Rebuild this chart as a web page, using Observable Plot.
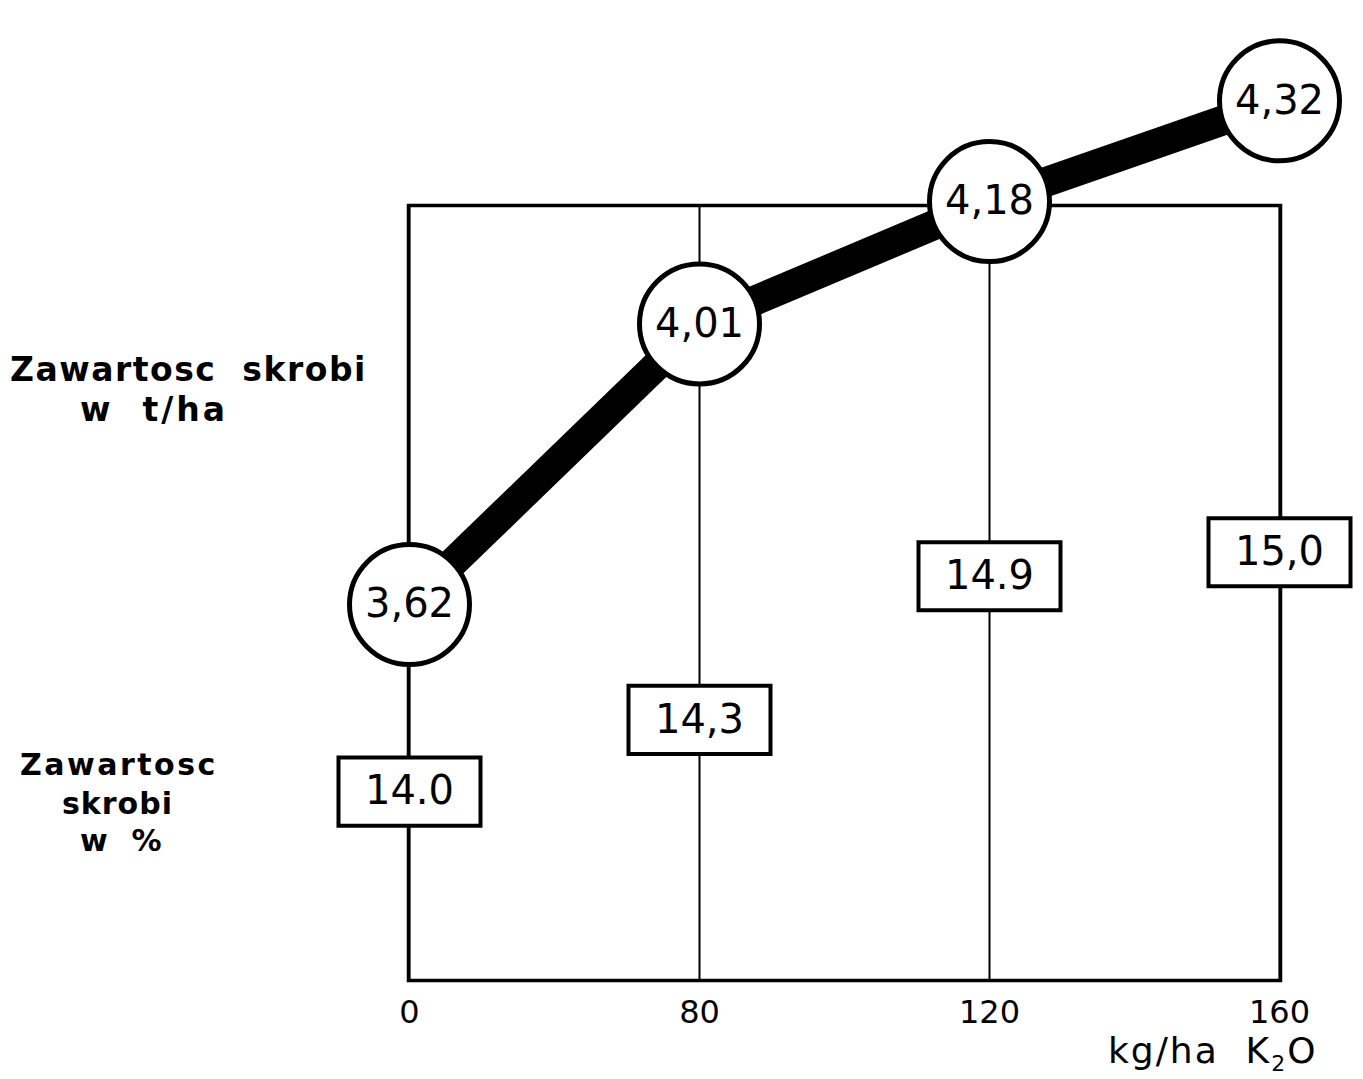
<!DOCTYPE html>
<html><head><meta charset="utf-8">
<script src="https://cdn.jsdelivr.net/npm/d3@7"></script>
<script src="https://cdn.jsdelivr.net/npm/@observablehq/plot@0.6"></script>
<style>
body{margin:0;background:#fff;}
#wrap{position:relative;width:1363px;height:1079px;overflow:hidden;}
#wrap svg{position:absolute;left:0;top:0;}
.lab{position:absolute;font-family:"DejaVu Sans",sans-serif;font-weight:bold;color:#000;white-space:pre;line-height:1;}
</style></head>
<body><div id="wrap"></div>
<script>
// Data
const doses = ["0", "80", "120", "160"];                 // kg/ha K2O
const yieldT = [3.62, 4.01, 4.18, 4.32];                  // starch t/ha
const yieldLabels = ["3,62", "4,01", "4,18", "4,32"];
const starchPct = [14.0, 14.3, 14.9, 15.0];               // starch %
const starchLabels = ["14.0", "14,3", "14.9", "15,0"];

// secondary (%) axis mapped into the t/ha scale
const yDomain = [3.0976, 4.1746];
const pctToT = d3.scaleLinear().domain([14, 15]).range([3.360, 3.6927]);

const data = doses.map((d, i) => ({
  dose: d, t: yieldT[i], tLab: yieldLabels[i],
  pct: pctToT(starchPct[i]), pLab: starchLabels[i]
}));

const boxSymbol = {
  draw(ctx, size) {
    const r = Math.sqrt(size / Math.PI);
    const w = r, h = r * 0.48;
    ctx.moveTo(-w, -h); ctx.lineTo(w, -h); ctx.lineTo(w, h); ctx.lineTo(-w, h); ctx.closePath();
  }
};

const chart = Plot.plot({
  width: 1363, height: 1079,
  marginLeft: 408, marginRight: 83, marginTop: 205, marginBottom: 99,
  style: {fontFamily: "DejaVu Sans, sans-serif", background: "white", color: "black", overflow: "visible"},
  x: {type: "point", domain: doses, padding: 0},
  y: {domain: yDomain, axis: null},
  marks: [
    Plot.ruleX(doses, {x: d => d, y1: yDomain[0], y2: yDomain[1], stroke: "black", strokeWidth: 2}),
    Plot.frame({stroke: "black", strokeWidth: 3.5}),
    Plot.line(data, {x: "dose", y: "t", stroke: "black", strokeWidth: 30, strokeLinecap: "butt"}),
    Plot.dot(data, {x: "dose", y: "pct", symbol: boxSymbol, r: 71, fill: "white", stroke: "black", strokeWidth: 4}),
    Plot.text(data, {x: "dose", y: "pct", text: "pLab", fontSize: 40, fill: "black"}),
    Plot.dot(data, {x: "dose", y: "t", r: 60, fill: "white", stroke: "black", strokeWidth: 5}),
    Plot.text(data, {x: "dose", y: "t", text: "tLab", fontSize: 40, fill: "black"}),
    Plot.axisX({tickSize: 0, tickPadding: 20, fontSize: 32, label: null})
  ]
});
const wrap = document.getElementById("wrap");
wrap.appendChild(chart);

function addLabel(text, left, top, size, spacing) {
  const d = document.createElement("div");
  d.className = "lab"; d.textContent = text;
  d.style.left = left + "px"; d.style.top = top + "px"; d.style.fontSize = size + "px";
  d.style.letterSpacing = (spacing || 0) + "px";
  wrap.appendChild(d);
}
addLabel("Zawartosc  skrobi", 10, 353, 33, 1.5);
addLabel("w  t/ha", 80, 393, 33, 3);
addLabel("Zawartosc", 20, 750, 30, 2.5);
addLabel("skrobi", 62, 789, 30, 1);
addLabel("w  %", 80, 826, 30, 1);
const ax = document.createElement("div");
ax.className = "lab"; ax.style.fontWeight = "normal";
ax.innerHTML = "kg/ha&nbsp; K<sub style='font-size:22px;line-height:0'>2</sub>O";
ax.style.left = "1108px"; ax.style.top = "1033px"; ax.style.fontSize = "36px"; ax.style.letterSpacing = "2px";
wrap.appendChild(ax);
</script>
</body></html>
